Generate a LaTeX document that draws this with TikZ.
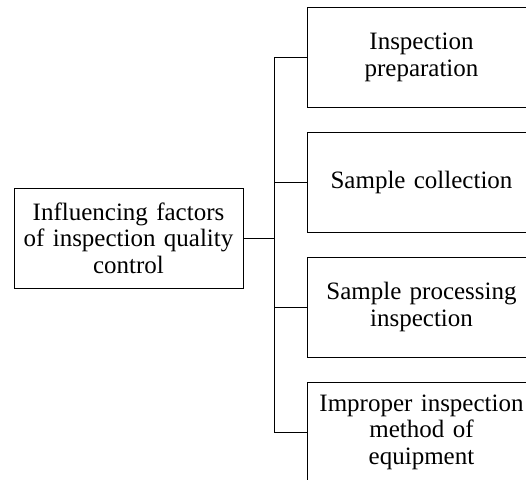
\documentclass[tikz,border=0pt]{standalone}
\usepackage{fontspec}
\setmainfont{Liberation Serif}
\usepackage{tikz}
\usetikzlibrary{positioning}

\tikzset{
  factorbox/.style={draw, line width=0.8pt, minimum width=229pt, minimum height=100pt,
    text width=222pt, inner sep=2pt, align=center, font=\fontsize{25}{26.5}\selectfont},
  link/.style={line width=0.8pt}
}

\begin{document}
\begin{tikzpicture}[x=1pt,y=-1pt]
\clip (0,0) rectangle (526,479);
\node[factorbox] (root) at (128.5,238) {Influencing factors\\ of inspection quality\\ control};
\node[factorbox] (prep) at (421.5,57.5) {Inspection\\ preparation};
\node[factorbox, below=24pt of prep] (collect) {Sample collection};
\node[factorbox, below=24pt of collect] (process) {Sample processing\\ inspection};
\node[factorbox, below=24pt of process] (method) {Improper inspection\\ method of\\ equipment};
\coordinate (trunk) at (274,0);
\draw[link] (root.east) -- (root.east -| trunk);
\draw[link] (prep.west -| trunk) -- (method.west -| trunk);
\foreach \f in {prep,collect,process,method}
  \draw[link] (\f.west -| trunk) -- (\f.west);
\end{tikzpicture}
\end{document}
